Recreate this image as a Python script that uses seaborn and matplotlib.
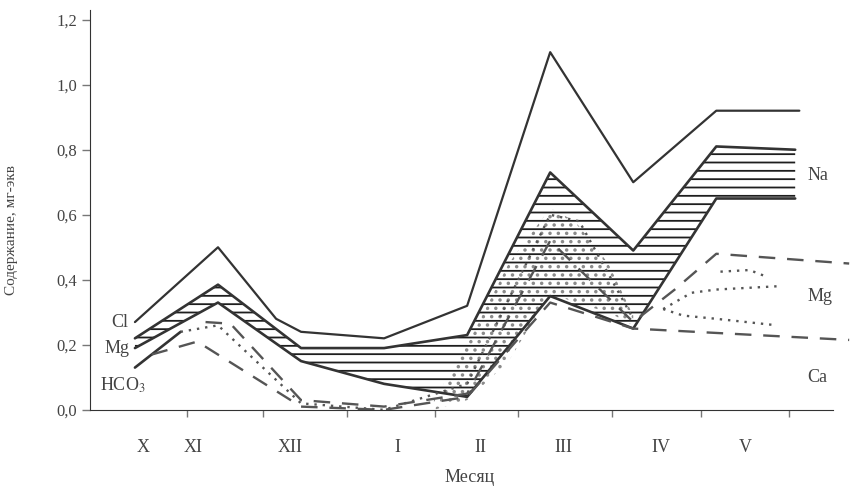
import numpy as np
import matplotlib
matplotlib.use("Agg")
import matplotlib.pyplot as plt
import seaborn as sns

# month labels and where they sit under the axis (month index units)
months = ["X", "XI", "XII", "I", "II", "III", "IV", "V"]
month_label_pos = [0.1, 0.7, 1.87, 3.16, 4.16, 5.16, 6.33, 7.35]
tick_mark_pos = [0.63, 1.54, 2.55, 3.61, 4.61, 5.75, 6.81, 7.87]

# outer (total) line
total_x = [0, 1, 1.7, 2, 3, 4, 5, 6, 7, 8]
total_y = [0.27, 0.50, 0.28, 0.24, 0.22, 0.32, 1.10, 0.70, 0.92, 0.92]

# hatched band (Cl at left, Na at right)
band_x = [0, 1, 2, 3, 4, 5, 6, 7, 7.95]
band_top = [0.22, 0.385, 0.19, 0.19, 0.23, 0.73, 0.49, 0.81, 0.80]
band_bot = [0.19, 0.33, 0.15, 0.08, 0.04, 0.35, 0.25, 0.65, 0.65]

# lowest solid line at the left (HCO3 border)
low_x = [0, 0.55]
low_y = [0.13, 0.24]

# dotted border, continues the low line
dot_x = [0.55, 1, 2, 3, 4, 5, 5.35, 6]
dot_y = [0.24, 0.26, 0.02, 0.0, 0.08, 0.60, 0.58, 0.28]

# stippled patch between II and IV
st_x = [3.6, 4, 4.5, 5, 5.3, 5.7, 6]
st_top = [0.03, 0.20, 0.45, 0.62, 0.58, 0.45, 0.29]
st_bot = [0.0, 0.03, 0.15, 0.36, 0.33, 0.30, 0.26]

# dashed lines (Mg / Ca)
dash_hi_x = [0.85, 1.15, 2, 3, 4, 5, 6, 6.5, 7, 8.6]
dash_hi_y = [0.27, 0.265, 0.03, 0.01, 0.05, 0.52, 0.27, 0.37, 0.48, 0.45]
dash_lo_x = [0.2, 0.75, 2, 3, 4, 5, 6, 8.6]
dash_lo_y = [0.17, 0.21, 0.01, 0.0, 0.04, 0.33, 0.25, 0.215]

# short dotted lines inside the Mg layer at V
r1_x = [7.05, 7.4, 7.6]
r1_y = [0.425, 0.43, 0.41]
r2_x = [6.36, 6.7, 7.0, 7.73]
r2_y = [0.31, 0.36, 0.37, 0.38]
r3_x = [6.36, 6.6, 7.0, 7.73]
r3_y = [0.31, 0.29, 0.28, 0.26]

sns.set_style("ticks")
plt.rcParams['font.family'] = ['Liberation Serif', 'DejaVu Serif']
plt.rcParams['mathtext.fontset'] = 'stix'
plt.rcParams['hatch.linewidth'] = 1.3

ink = "#333333"
txt = "#444444"

fig = plt.figure(figsize=(8.5, 4.95), dpi=100)
ax = fig.add_axes([0.106, 0.172, 0.894, 0.808])

ax.fill_between(band_x, band_bot, band_top, facecolor="none",
                edgecolor="#1e1e1e", hatch="--", linewidth=0)
ax.fill_between(st_x, st_bot, st_top, facecolor="none",
                edgecolor="#8a8a8a", hatch="..", linewidth=0)

sns.lineplot(x=total_x, y=total_y, ax=ax, color=ink, lw=1.6)
sns.lineplot(x=band_x, y=band_top, ax=ax, color=ink, lw=1.9)
sns.lineplot(x=band_x, y=band_bot, ax=ax, color=ink, lw=1.9)
sns.lineplot(x=low_x, y=low_y, ax=ax, color=ink, lw=1.9)
sns.lineplot(x=dot_x, y=dot_y, ax=ax, color="#555555", lw=1.7, linestyle=(0, (1, 2.5)))
sns.lineplot(x=dash_hi_x, y=dash_hi_y, ax=ax, color="#555555", lw=1.7, linestyle=(0, (7, 5)))
sns.lineplot(x=dash_lo_x, y=dash_lo_y, ax=ax, color="#555555", lw=1.7, linestyle=(0, (7, 5)))
for xs, ys in [(r1_x, r1_y), (r2_x, r2_y), (r3_x, r3_y)]:
    sns.lineplot(x=xs, y=ys, ax=ax, color="#555555", lw=1.7, linestyle=(0, (1, 2.5)))

# layer names
ax.text(-0.085, 0.27, "Cl", ha="right", va="center", fontsize=13, color=txt)
ax.text(-0.06, 0.19, "Mg", ha="right", va="center", fontsize=13, color=txt)
ax.text(-0.42, 0.077, "HCO$_3$", ha="left", va="center", fontsize=13, color=txt)
ax.text(8.1, 0.72, "Na", ha="left", va="center", fontsize=13, color=txt)
ax.text(8.1, 0.35, "Mg", ha="left", va="center", fontsize=13, color=txt)
ax.text(8.1, 0.10, "Ca", ha="left", va="center", fontsize=13, color=txt)

ax.set_xlim(-0.54, 8.61)
ax.set_ylim(0, 1.23)

yt = [0.0, 0.2, 0.4, 0.6, 0.8, 1.0, 1.2]
ax.set_yticks(yt)
ax.set_yticklabels([f"{v:.1f}".replace(".", ",") for v in yt], fontsize=12, color=txt)

ax.set_xticks(tick_mark_pos)
ax.set_xticklabels([])
ax.set_xticks(month_label_pos, minor=True)
ax.set_xticklabels(months, minor=True, fontsize=13, color=txt)
ax.tick_params(axis="x", which="major", length=5, width=1, color="#777777")
ax.tick_params(axis="x", which="minor", length=0, pad=21)
ax.tick_params(axis="y", length=6, width=1, color="#777777")

ax.set_xlabel("Месяц", fontsize=13, color=txt, labelpad=9)
ax.set_ylabel("Содержание, мг-экв", fontsize=11, color=txt)
ax.yaxis.set_label_coords(-0.095, 0.45)

sns.despine(ax=ax)
ax.spines["left"].set_color("#333333")
ax.spines["bottom"].set_color("#333333")
ax.spines["bottom"].set_bounds(-0.54, 8.4)

fig.savefig("out.png", dpi=100)
